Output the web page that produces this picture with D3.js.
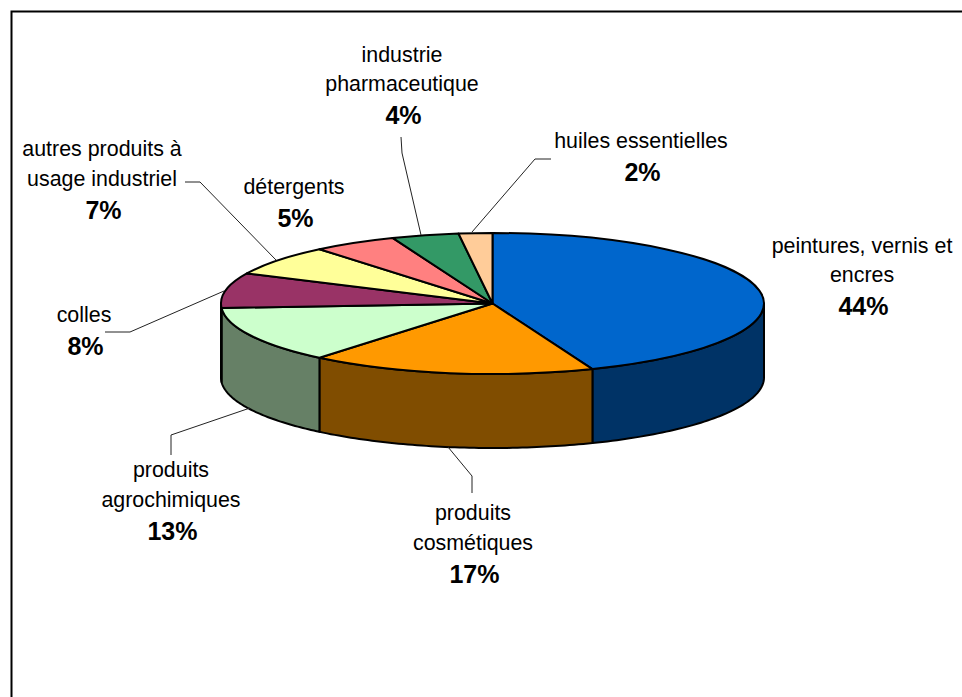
<!DOCTYPE html>
<html>
<head>
<meta charset="utf-8">
<title>camembert</title>
<script src="https://cdn.jsdelivr.net/npm/d3@7"></script>
<style>
  html, body { margin: 0; padding: 0; background: #fff; overflow: hidden; }
  text { font-family: "Liberation Sans", Arial, sans-serif; fill: #000; }
</style>
</head>
<body>
<div id="container"></div>
<script>
var categories = ["peintures, vernis et encres", "produits cosmétiques", "produits agrochimiques", "colles",
  "autres produits à usage industriel", "détergents", "industrie pharmaceutique", "huiles essentielles"];
var values = [44, 17, 13, 8, 7, 5, 4, 2];
var topColors = ["#0066cc", "#ff9900", "#ccffcc", "#993366", "#ffff99", "#ff8080", "#339966", "#ffcc99"];
var sideColors = ["#003366", "#804d00", "#668066", "#4d1a33", "#808050", "#804040", "#1a4d33", "#80664d"];

// label placement, one entry per category
var labelLines = [["peintures, vernis et", "encres"], ["produits", "cosmétiques"], ["produits", "agrochimiques"], ["colles"],
  ["autres produits à", "usage industriel"], ["détergents"], ["industrie", "pharmaceutique"], ["huiles essentielles"]];
var labelX = [862, 473, 171, 84, 102, 294, 402, 641];
var labelY = [252.5, 520, 477, 321.5, 156, 193.5, 61.5, 148];

var leaders = [
  null,
  [[448, 447], [472, 476], [472, 493]],
  [[171, 455], [171, 435], [250, 408]],
  [[105, 332], [130, 332], [224, 291]],
  [[185, 182], [200, 182], [276, 260]],
  null,
  [[401, 137], [402, 153], [421, 235]],
  [[551, 159], [535, 159], [472, 232]]
];

var width = 962, height = 697;
var cx = 492.5, cy = 303.5, rx = 271.5, ry = 70.5, depth = 74;

var svg = d3.select("#container").append("svg")
  .attr("width", width)
  .attr("height", height)
  .style("display", "block");

// chart frame, runs off the right and bottom of the picture
svg.append("rect")
  .attr("x", 11.5).attr("y", 11.5)
  .attr("width", width + 20).attr("height", height + 20)
  .attr("fill", "#fff").attr("stroke", "#000").attr("stroke-width", 2);

var pie = d3.pie().sort(null).value(function(d) { return d; });
var slices = pie(values);

var px = function(a) { return cx + rx * Math.sin(a); };
var py = function(a) { return cy - ry * Math.cos(a); };

// walls, only the front half of the ellipse shows
var wall = d3.area()
  .x(function(a) { return px(a); })
  .y0(function(a) { return py(a); })
  .y1(function(a) { return py(a) + depth; });

svg.append("g").selectAll("path")
  .data(slices.filter(function(d) { return d.startAngle < 1.5 * Math.PI && d.endAngle > 0.5 * Math.PI; }))
  .enter().append("path")
  .attr("d", function(d) {
    var a0 = Math.max(d.startAngle, 0.5 * Math.PI), a1 = Math.min(d.endAngle, 1.5 * Math.PI);
    var n = 60, angles = d3.range(n + 1).map(function(i) { return a0 + (a1 - a0) * i / n; });
    return wall(angles);
  })
  .attr("fill", function(d) { return sideColors[d.index]; })
  .attr("stroke", "#000").attr("stroke-width", 2).attr("stroke-linejoin", "round");

// top face: a plain d3 pie squashed into the ellipse
var arc = d3.arc().innerRadius(0).outerRadius(rx);
svg.append("g")
  .attr("transform", "translate(" + cx + "," + cy + ") scale(1," + (ry / rx) + ")")
  .selectAll("path")
  .data(slices)
  .enter().append("path")
  .attr("d", arc)
  .attr("fill", function(d) { return topColors[d.index]; })
  .attr("stroke", "#000").attr("stroke-width", 2).attr("stroke-linejoin", "round")
  .attr("vector-effect", "non-scaling-stroke");

// leader lines
var line = d3.line();
svg.append("g").selectAll("path")
  .data(leaders.filter(function(d) { return d; }))
  .enter().append("path")
  .attr("d", line)
  .attr("fill", "none")
  .attr("stroke", "#222").attr("stroke-width", 1);

// labels
var labels = svg.append("g").selectAll("text")
  .data(categories)
  .enter().append("text")
  .attr("text-anchor", "middle");

labels.each(function(d, i) {
  var t = d3.select(this);
  var lines = labelLines[i];
  lines.forEach(function(l, j) {
    t.append("tspan")
      .attr("x", labelX[i])
      .attr("y", labelY[i] + j * 29.5)
      .attr("font-size", 21.4)
      .text(l);
  });
  t.append("tspan")
    .attr("x", labelX[i] + 1.5)
    .attr("y", labelY[i] + (lines.length - 1) * 29.5 + 33)
    .attr("font-size", 25)
    .attr("font-weight", "bold")
    .text(values[i] + "%");
});
</script>
</body>
</html>
